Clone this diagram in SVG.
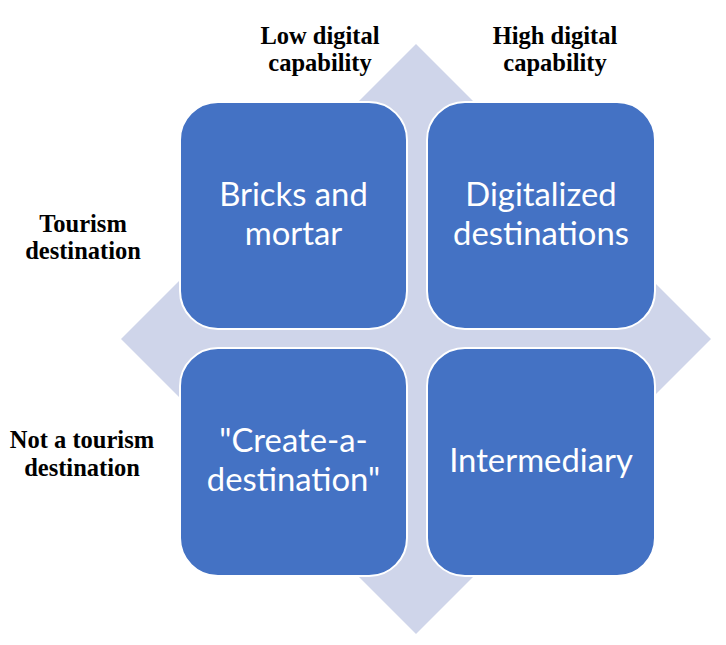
<svg xmlns="http://www.w3.org/2000/svg" width="726" height="645" viewBox="0 0 726 645">
<style>
.box{fill:#4472C4;stroke:#FFFFFF;stroke-width:2}
.bt{font-family:Lato,"Open Sans","Liberation Sans",sans-serif;font-size:32.8px;fill:#FFFFFF;text-anchor:middle}
.lbl{font-family:"Liberation Serif","Times New Roman",serif;font-weight:bold;font-size:24.5px;fill:#000000;text-anchor:middle}
</style>
<rect width="726" height="645" fill="#FFFFFF"/>
<g id="diamond"><polygon points="416,44 711,339 416,634 121,339" fill="#CFD5EA"/></g>
<g id="labels">
<text class="lbl" x="320" y="44">Low digital</text>
<text class="lbl" x="320" y="71">capability</text>
<text class="lbl" x="555" y="44">High digital</text>
<text class="lbl" x="555" y="71">capability</text>
<text class="lbl" x="83" y="232">Tourism</text>
<text class="lbl" x="83" y="259">destination</text>
<text class="lbl" x="82" y="448">Not a tourism</text>
<text class="lbl" x="82" y="476">destination</text>
</g>
<g id="bricks"><rect class="box" x="180" y="102" width="227" height="227" rx="38"/>
<text class="bt" x="293.5" y="206">Bricks and</text><text class="bt" x="293.5" y="245">mortar</text></g>
<g id="digitalized"><rect class="box" x="427" y="102" width="228" height="227" rx="38"/>
<text class="bt" x="541" y="206">Digitalized</text><text class="bt" x="541" y="245">destinations</text></g>
<g id="create"><rect class="box" x="180" y="348" width="227" height="228" rx="38"/>
<text class="bt" x="293.5" y="452">"Create-a-</text><text class="bt" x="293.5" y="491">destination"</text></g>
<g id="intermediary"><rect class="box" x="427" y="348" width="228" height="228" rx="38"/>
<text class="bt" x="541" y="472">Intermediary</text></g>
<g id="connectors"></g>
</svg>
